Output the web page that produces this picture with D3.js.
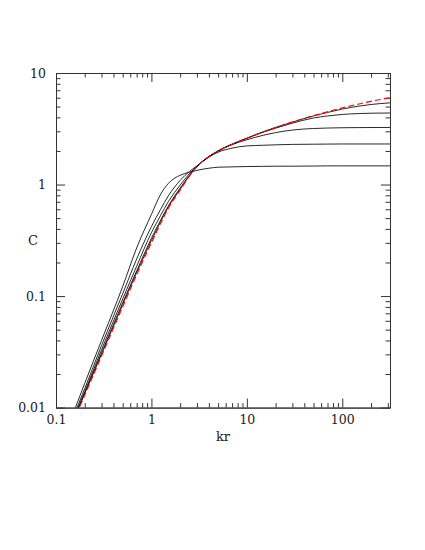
<!DOCTYPE html>
<html>
<head>
<meta charset="utf-8">
<script src="https://cdn.jsdelivr.net/npm/d3@7"></script>
<style>
  body { margin: 0; background: #fff; }
  text { font-family: "DejaVu Serif", serif; fill: #222; }
</style>
</head>
<body>
<script>
// kr sample points
var kr = [0.15, 0.2, 0.3, 0.5, 0.7, 1, 1.25, 1.5, 1.75, 2, 2.5, 3, 4, 5, 7, 10, 15, 20, 30, 50, 70, 100, 150, 200, 316];

// black curves, lowest plateau first
var c1 = [0.0087, 0.0165, 0.040, 0.122, 0.27, 0.54, 0.82, 1.02, 1.14, 1.21, 1.29, 1.34, 1.40, 1.43, 1.44, 1.45, 1.455, 1.46, 1.46, 1.465, 1.47, 1.47, 1.47, 1.47, 1.47];
var c2 = [0.0081, 0.0148, 0.036, 0.105, 0.215, 0.42, 0.60, 0.79, 0.95, 1.09, 1.31, 1.47, 1.76, 1.95, 2.12, 2.22, 2.25, 2.27, 2.29, 2.30, 2.305, 2.31, 2.31, 2.31, 2.31];
var c3 = [0.0077, 0.0139, 0.033, 0.094, 0.185, 0.37, 0.53, 0.70, 0.85, 0.99, 1.25, 1.46, 1.78, 2.0, 2.28, 2.52, 2.77, 2.92, 3.08, 3.18, 3.21, 3.23, 3.24, 3.245, 3.25];
var c4 = [0.0076, 0.0135, 0.031, 0.087, 0.168, 0.33, 0.48, 0.64, 0.79, 0.93, 1.21, 1.45, 1.78, 2.0, 2.3, 2.6, 2.96, 3.2, 3.55, 3.95, 4.12, 4.25, 4.33, 4.36, 4.38];
var c5 = [0.0075, 0.0134, 0.030, 0.084, 0.162, 0.315, 0.465, 0.625, 0.77, 0.905, 1.2, 1.45, 1.78, 2.0, 2.3, 2.6, 2.98, 3.25, 3.63, 4.12, 4.43, 4.75, 5.05, 5.22, 5.4];
// red dashed limit curve
var cRed = [0.0073, 0.0129, 0.029, 0.080, 0.155, 0.30, 0.45, 0.61, 0.755, 0.89, 1.19, 1.45, 1.78, 2.0, 2.3, 2.6, 2.98, 3.25, 3.64, 4.15, 4.5, 4.87, 5.28, 5.57, 6.0];

var xMajor = [0.1, 1, 10, 100];
var xLabels = ["0.1", "1", "10", "100"];
var yMajor = [0.01, 0.1, 1, 10];
var yLabels = ["0.01", "0.1", "1", "10"];

var width = 425, height = 550;
var margin = {top: 73, right: 35, bottom: 142.4, left: 56};
var frameColor = "#333";
var majorLen = 9, minorLen = 4.5;

var svg = d3.select("body").append("svg")
    .attr("width", width)
    .attr("height", height);

var x = d3.scaleLog()
    .domain([0.1, 316.2])
    .range([margin.left, width - margin.right]);
var y = d3.scaleLog()
    .domain([0.01, 10])
    .range([height - margin.bottom, margin.top]);

// minor ticks: 2..9 in each decade, inside the domain
function minors(scale) {
    var d = scale.domain(), out = [];
    for (var e = Math.floor(Math.log10(d[0])); e <= Math.ceil(Math.log10(d[1])); e++) {
        for (var m = 2; m <= 9; m++) {
            var v = m * Math.pow(10, e);
            if (v > d[0] && v < d[1]) out.push(v);
        }
    }
    return out;
}

function styleAxis(g) {
    g.selectAll("path").attr("stroke", frameColor).attr("stroke-width", 1);
    g.selectAll("line").attr("stroke", frameColor).attr("stroke-width", 1);
    g.selectAll("text").attr("font-family", "DejaVu Serif").attr("font-size", 12.5).attr("fill", "#222");
}

var bottomY = y.range()[0], topY = y.range()[1];
var leftX = x.range()[0], rightX = x.range()[1];

// bottom
svg.append("g").attr("transform", "translate(0," + bottomY + ")")
    .call(d3.axisBottom(x).tickValues(xMajor).tickSizeInner(-majorLen).tickSizeOuter(0).tickPadding(8)
        .tickFormat(function (d, i) { return xLabels[i]; }))
    .call(styleAxis);
svg.append("g").attr("transform", "translate(0," + bottomY + ")")
    .call(d3.axisBottom(x).tickValues(minors(x)).tickSizeInner(-minorLen).tickSizeOuter(0).tickFormat(""))
    .call(styleAxis);
// top
svg.append("g").attr("transform", "translate(0," + topY + ")")
    .call(d3.axisTop(x).tickValues(xMajor).tickSizeInner(-majorLen).tickSizeOuter(0).tickFormat(""))
    .call(styleAxis);
svg.append("g").attr("transform", "translate(0," + topY + ")")
    .call(d3.axisTop(x).tickValues(minors(x)).tickSizeInner(-minorLen).tickSizeOuter(0).tickFormat(""))
    .call(styleAxis);
// left
svg.append("g").attr("transform", "translate(" + leftX + ",0)")
    .call(d3.axisLeft(y).tickValues(yMajor).tickSizeInner(-majorLen).tickSizeOuter(0).tickPadding(10)
        .tickFormat(function (d, i) { return yLabels[i]; }))
    .call(styleAxis);
svg.append("g").attr("transform", "translate(" + leftX + ",0)")
    .call(d3.axisLeft(y).tickValues(minors(y)).tickSizeInner(-minorLen).tickSizeOuter(0).tickFormat(""))
    .call(styleAxis);
// right
svg.append("g").attr("transform", "translate(" + rightX + ",0)")
    .call(d3.axisRight(y).tickValues(yMajor).tickSizeInner(-majorLen).tickSizeOuter(0).tickFormat(""))
    .call(styleAxis);
svg.append("g").attr("transform", "translate(" + rightX + ",0)")
    .call(d3.axisRight(y).tickValues(minors(y)).tickSizeInner(-minorLen).tickSizeOuter(0).tickFormat(""))
    .call(styleAxis);

// clip the curves to the frame
svg.append("clipPath").attr("id", "plotclip")
    .append("rect")
    .attr("x", leftX).attr("y", topY)
    .attr("width", rightX - leftX).attr("height", bottomY - topY);

var line = d3.line()
    .x(function (d) { return x(d[0]); })
    .y(function (d) { return y(d[1]); })
    .curve(d3.curveMonotoneX);

var plot = svg.append("g").attr("clip-path", "url(#plotclip)");

[c1, c2, c3, c4, c5].forEach(function (c) {
    plot.append("path")
        .datum(d3.zip(kr, c))
        .attr("d", line)
        .attr("fill", "none")
        .attr("stroke", "#111")
        .attr("stroke-width", 0.9);
});

// red dashed on top
plot.append("path")
    .datum(d3.zip(kr, cRed))
    .attr("d", line)
    .attr("fill", "none")
    .attr("stroke", "#ff0000")
    .attr("stroke-width", 1.1)
    .attr("stroke-dasharray", "6,3");

// axis titles
svg.append("text")
    .attr("x", (leftX + rightX) / 2)
    .attr("y", 441)
    .attr("text-anchor", "middle")
    .attr("font-size", 13)
    .text("kr");

svg.append("text")
    .attr("x", 33)
    .attr("y", (topY + bottomY) / 2 + 4.5)
    .attr("text-anchor", "middle")
    .attr("font-size", 13)
    .text("C");
</script>
</body>
</html>
